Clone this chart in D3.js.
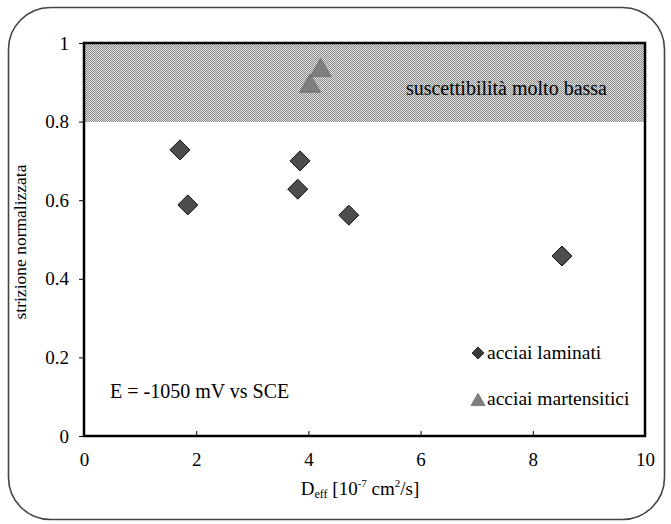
<!DOCTYPE html>
<html><head><meta charset="utf-8">
<script src="https://cdn.jsdelivr.net/npm/d3@7"></script>
<style>body{margin:0;background:#fff}svg{display:block}</style>
</head><body><svg id="c" width="671" height="524"></svg>
<script>
const xTicks = [0, 2, 4, 6, 8, 10];
const yTicks = [0, 0.2, 0.4, 0.6, 0.8, 1];
const laminatiX = [1.71, 1.85, 3.85, 3.81, 4.72, 8.52];
const laminatiY = [0.728, 0.588, 0.700, 0.628, 0.562, 0.458];
const martensiticiX = [4.22, 4.03];
const martensiticiY = [0.936, 0.896];
const bandRange = [0.8, 1.0];
const seriesNames = ["acciai laminati", "acciai martensitici"];

const FONT = "'Liberation Serif', serif";
const svg = d3.select("#c");
const m = {l: 84, r: 645, t: 43, b: 436};
const x = d3.scaleLinear().domain([0, 10]).range([m.l, m.r]);
const y = d3.scaleLinear().domain([0, 1]).range([m.b, m.t]);

// outer rounded frame
svg.append("rect").attr("x", 8.5).attr("y", 7.5).attr("width", 656).attr("height", 512)
  .attr("rx", 42).attr("ry", 42).attr("fill", "none").attr("stroke", "#444").attr("stroke-width", 1.6);

// pattern
const defs = svg.append("defs");
const pat = defs.append("pattern").attr("id", "dots").attr("patternUnits", "userSpaceOnUse")
  .attr("width", 2).attr("height", 2);
pat.append("rect").attr("width", 2).attr("height", 2).attr("fill", "#e2e2e2");
pat.append("rect").attr("width", 1).attr("height", 1).attr("fill", "#8a8a8a");
pat.append("rect").attr("x", 1).attr("y", 1).attr("width", 1).attr("height", 1).attr("fill", "#8a8a8a");

svg.append("rect").attr("x", x(0)).attr("y", y(bandRange[1]))
  .attr("width", x(10) - x(0)).attr("height", y(bandRange[0]) - y(bandRange[1]))
  .attr("fill", "url(#dots)").attr("shape-rendering", "crispEdges");

// axes
const xAxis = d3.axisBottom(x).tickValues(xTicks).tickSize(-5).tickPadding(17).tickFormat(d3.format("d"));
const gx = svg.append("g").attr("transform", `translate(0,${m.b})`).call(xAxis);
gx.attr("font-family", FONT);
gx.select(".domain").remove();
gx.selectAll("line").attr("stroke", "#000");
gx.selectAll("text").attr("font-size", 19).attr("font-family", FONT);

const yAxis = d3.axisLeft(y).tickValues(yTicks).tickSize(5).tickPadding(10).tickFormat(d => d === 0 || d === 1 ? d : d.toFixed(1));
const gy = svg.append("g").attr("transform", `translate(${m.l},0)`).call(yAxis);
gy.attr("font-family", FONT);
gy.select(".domain").remove();
gy.selectAll("line").attr("stroke", "#000");
gy.selectAll("text").attr("font-size", 19).attr("font-family", FONT);

// plot border
svg.append("rect").attr("x", m.l).attr("y", m.t).attr("width", m.r - m.l).attr("height", m.b - m.t)
  .attr("fill", "none").attr("stroke", "#000").attr("stroke-width", 2.5);

function diamondPath(s) { return `M0,${-s}L${s},0L0,${s}L${-s},0Z`; }
function triPath(s) { return `M0,${-s*0.95}L${s},${s*0.8}L${-s},${s*0.8}Z`; }

svg.append("g").selectAll("path").data(d3.range(laminatiX.length)).join("path")
  .attr("transform", i => `translate(${x(laminatiX[i])},${y(laminatiY[i])})`)
  .attr("d", diamondPath(10)).attr("fill", "#4d4d4d").attr("stroke", "#111").attr("stroke-width", 1);

svg.append("g").selectAll("path").data(d3.range(martensiticiX.length)).join("path")
  .attr("transform", i => `translate(${x(martensiticiX[i])},${y(martensiticiY[i])})`)
  .attr("d", triPath(10.5)).attr("fill", "#7f7f7f").attr("stroke", "#6a6a6a").attr("stroke-width", 0.8);

function txt(xx, yy, size, s, anchor) {
  return svg.append("text").attr("x", xx).attr("y", yy).attr("font-size", size)
    .attr("font-family", FONT).attr("text-anchor", anchor || "start").attr("fill", "#000").text(s);
}

// annotations
txt(607, 95, 20, "suscettibilità molto bassa", "end");
txt(110, 398, 20, "E = -1050 mV vs SCE");

// legend
svg.append("path").attr("transform", "translate(478,353)").attr("d", diamondPath(6))
  .attr("fill", "#3a3a3a").attr("stroke", "#111").attr("stroke-width", 0.8);
txt(487, 359, 19.5, seriesNames[0]);
svg.append("path").attr("transform", "translate(478,400)").attr("d", triPath(7))
  .attr("fill", "#7f7f7f").attr("stroke", "#6a6a6a").attr("stroke-width", 0.8);
txt(487, 405, 19.5, seriesNames[1]);

// axis titles
svg.append("text").attr("transform", "translate(26,242) rotate(-90)").attr("text-anchor", "middle")
  .attr("font-family", FONT).attr("font-size", 17.5).text("strizione normalizzata");

const xt = svg.append("text").attr("x", 360).attr("y", 495).attr("text-anchor", "middle")
  .attr("font-family", FONT).attr("font-size", 19);
xt.append("tspan").text("D");
xt.append("tspan").attr("font-size", 12).attr("dy", 3).text("eff");
xt.append("tspan").attr("dy", -3).text(" [10");
xt.append("tspan").attr("font-size", 11).attr("dy", -8).text("-7");
xt.append("tspan").attr("dy", 8).text(" cm");
xt.append("tspan").attr("font-size", 11).attr("dy", -8).text("2");
xt.append("tspan").attr("dy", 8).text("/s]");
</script></body></html>
